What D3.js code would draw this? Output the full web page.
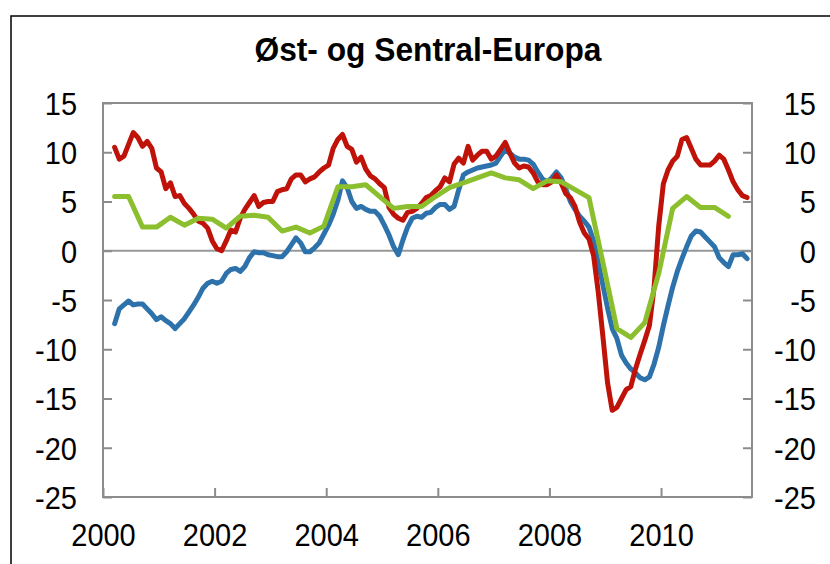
<!DOCTYPE html>
<html><head><meta charset="utf-8">
<script src="https://cdn.jsdelivr.net/npm/d3@7"></script>
<style>
html,body{margin:0;padding:0;background:#fff;}
svg{display:block;font-family:"Liberation Sans",Arial,sans-serif;}
</style></head>
<body>
<script>
// Monthly series start: March 2000 (month index 2, 0-based)
const startYear = 2000, startMonth = 2;
const redValues = [10.5,9.3,9.6,10.8,12.0,11.5,10.6,11.1,10.4,8.4,
 8.0,6.3,6.9,5.5,5.6,4.8,4.3,3.7,3.0,2.8,
 2.3,1.0,0.2,0.0,1.0,2.1,1.9,3.3,4.2,4.9,
 5.6,4.5,4.9,5.0,5.0,6.0,6.2,6.3,7.3,7.7,
 7.7,7.0,7.3,7.5,8.0,8.4,8.7,10.4,11.3,11.8,
 10.6,10.3,9.0,9.5,8.3,7.6,7.3,6.8,6.4,4.4,
 3.7,3.3,3.1,3.9,4.0,4.3,4.8,5.4,5.6,6.1,
 6.5,7.4,7.0,8.8,9.4,8.9,10.6,9.2,9.7,10.1,
 10.1,9.3,9.6,10.3,11.0,9.9,8.9,8.4,8.6,8.5,
 7.9,7.0,6.7,6.7,7.0,7.7,6.9,5.8,5.4,4.5,
 2.9,1.8,1.2,-0.5,-4.2,-8.7,-13.4,-16.2,-15.9,-15.0,
 -14.1,-13.8,-12.0,-10.5,-9.1,-7.6,-3.7,2.5,6.8,8.2,
 9.1,9.6,11.3,11.5,10.4,9.3,8.7,8.7,8.7,9.1,
 9.7,9.3,8.2,7.0,6.2,5.6,5.4];
const blueValues = [-7.4,-5.9,-5.5,-5.1,-5.5,-5.4,-5.4,-5.9,-6.4,-7.0,
 -6.7,-7.1,-7.4,-7.9,-7.4,-6.9,-6.2,-5.5,-4.7,-3.8,
 -3.3,-3.1,-3.3,-3.1,-2.3,-1.9,-1.8,-2.1,-1.6,-0.7,
 -0.1,-0.2,-0.2,-0.4,-0.5,-0.6,-0.6,-0.1,0.6,1.3,
 0.8,-0.1,-0.1,0.3,0.8,1.7,2.6,3.7,5.1,7.1,
 6.4,5.0,4.3,4.5,4.2,4.0,4.0,3.5,2.6,1.6,
 0.4,-0.4,1.1,2.4,3.3,3.5,3.4,3.8,3.9,4.4,
 4.7,4.7,4.2,4.5,6.2,7.7,8.0,8.2,8.4,8.5,
 8.6,8.7,8.9,9.6,10.3,9.9,9.5,9.3,9.3,9.2,
 8.8,8.0,7.3,7.0,7.4,8.0,7.4,6.3,5.0,4.2,
 3.5,3.0,2.4,1.0,-1.2,-3.5,-5.8,-7.9,-8.9,-10.6,
 -11.4,-12.0,-12.4,-12.9,-13.1,-12.8,-11.5,-9.8,-7.6,-5.6,
 -3.7,-2.1,-0.8,0.4,1.5,2.0,1.9,1.4,0.9,0.4,
 -0.7,-1.2,-1.6,-0.4,-0.4,-0.3,-0.8];
// Quarterly series (every third month from March 2000)
const greenValues = [5.5,5.5,2.4,2.4,3.4,2.6,3.3,3.2,2.3,3.5,
 3.6,3.4,2.0,2.4,1.8,2.5,6.5,6.5,6.7,5.5,
 4.3,4.5,4.5,5.5,6.4,6.9,7.4,7.9,7.4,7.2,
 6.3,7.1,7.0,6.2,5.4,-1.2,-7.9,-8.8,-7.3,-2.3,
 4.3,5.5,4.4,4.4,3.5];
const yTicks = [-25,-20,-15,-10,-5,0,5,10,15];
const xTickYears = [2000,2002,2004,2006,2008,2010];
const xTickLabels = ["2000","2002","2004","2006","2008","2010"];
const title = "Øst- og Sentral-Europa";

const W = 830, H = 564;
const svg = d3.select("body").append("svg").attr("width", W).attr("height", H);

// outer frame
svg.append("rect").attr("x", 11).attr("y", 16).attr("width", 900).attr("height", 700)
  .attr("fill", "none").attr("stroke", "#000").attr("stroke-width", 1.5);

const pL = 103, pR = 752, pT = 103, pB = 497;
const x = d3.scaleLinear().domain([2000, 2011.63]).range([pL, pR]);
const y = d3.scaleLinear().domain([-25, 15]).range([pB, pT]);

const monthPos = i => startYear + (startMonth + i + 0.5) / 12;
const sy = 1.1; // vertical stretch of the lettering in the reference

// plot border
svg.append("rect").attr("x", pL).attr("y", pT).attr("width", pR-pL).attr("height", pB-pT)
  .attr("fill", "none").attr("stroke", "#8c8c8c").attr("stroke-width", 2);

// zero line
svg.append("line").attr("x1", pL).attr("x2", pR).attr("y1", y(0)).attr("y2", y(0))
  .attr("stroke", "#999").attr("stroke-width", 2);

// axes
const tickStyle = g => {
  g.select(".domain").remove();
  g.selectAll(".tick line").attr("stroke", "#8c8c8c").attr("stroke-width", 2);
  g.selectAll(".tick text").attr("fill", "#000").attr("font-size", 29)
    .attr("font-family", "'Liberation Sans', Arial, sans-serif");
};
const yl = svg.append("g").attr("transform", `translate(${pL},0)`)
  .call(d3.axisLeft(y).tickValues(yTicks).tickSizeInner(-9).tickSizeOuter(0).tickPadding(26).tickFormat(d3.format("d")))
  .call(tickStyle);
const yr = svg.append("g").attr("transform", `translate(${pR},0)`)
  .call(d3.axisRight(y).tickValues(yTicks).tickSizeInner(-9).tickSizeOuter(0).tickPadding(26).tickFormat(d3.format("d")))
  .call(tickStyle);
yl.selectAll(".tick text").attr("dy", "0.36em").attr("transform", `scale(1,${sy})`);
yr.selectAll(".tick text").attr("text-anchor", "end").attr("x", 64).attr("dy", "0.36em").attr("transform", `scale(1,${sy})`);
const xa = svg.append("g").attr("transform", `translate(0,${pB})`)
  .call(d3.axisBottom(x).tickValues(xTickYears).tickSizeInner(-9).tickSizeOuter(0).tickPadding(24)
    .tickFormat((d,i) => xTickLabels[i]))
  .call(tickStyle);
xa.selectAll(".tick text").attr("y", 26 / sy).attr("dy", "0.71em").attr("transform", `scale(1,${sy})`);
svg.selectAll(".tick text").text(function(){ return d3.select(this).text().replace("−","-"); });

// lines
const line = d3.line().x(d => x(d[0])).y(d => y(d[1]));
const redData = redValues.map((v,i) => [monthPos(i), v]);
const blueData = blueValues.map((v,i) => [monthPos(i), v]);
const greenData = greenValues.map((v,i) => [monthPos(i*3), v]);

svg.append("path").datum(blueData).attr("d", line).attr("fill","none")
  .attr("stroke","#2E72AB").attr("stroke-width",5).attr("stroke-linejoin","round").attr("stroke-linecap","round");
svg.append("path").datum(redData).attr("d", line).attr("fill","none")
  .attr("stroke","#BF1209").attr("stroke-width",5).attr("stroke-linejoin","round").attr("stroke-linecap","round");
svg.append("path").datum(greenData).attr("d", line).attr("fill","none")
  .attr("stroke","#8CBF2E").attr("stroke-width",5).attr("stroke-linejoin","round").attr("stroke-linecap","round");

// title
svg.append("text").attr("transform", `translate(428,61) scale(1.04,${sy})`).attr("text-anchor","middle")
  .attr("font-size", 30.5).attr("font-weight","bold").attr("fill","#000").text(title);
</script>
</body></html>
